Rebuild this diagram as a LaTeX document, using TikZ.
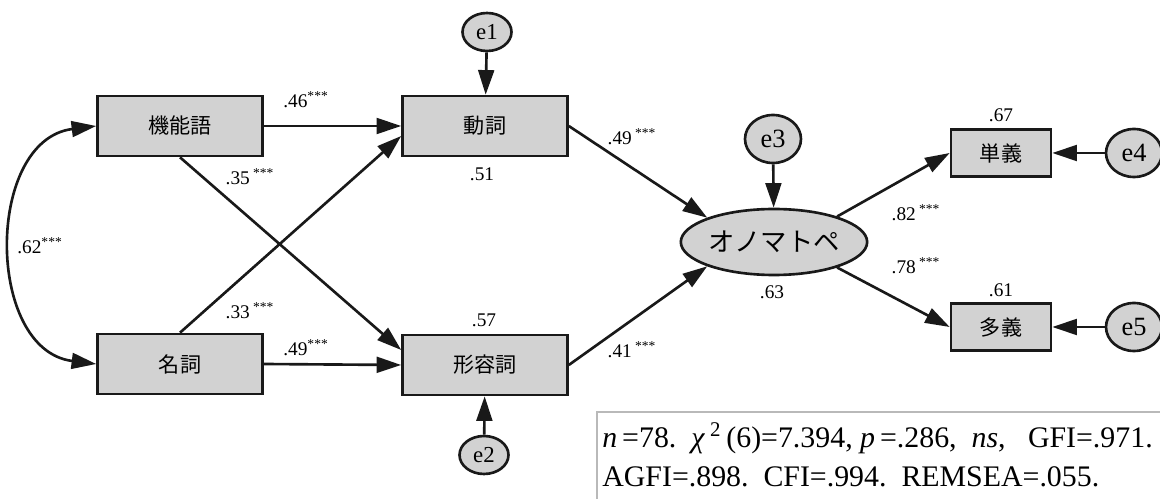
\documentclass[tikz,border=0pt]{standalone}
\usepackage{fontspec}
\setmainfont{Liberation Serif}
\newfontfamily\jp{Noto Sans CJK JP}
\usetikzlibrary{arrows.meta,shapes.geometric}

\begin{document}
\begin{tikzpicture}[x=0.02cm, y=-0.02cm, >={Triangle[length=14pt,width=9pt]},
  line width=1.5pt, draw=black!90,
  obs/.style={rectangle, draw, fill=gray!35, minimum width=3.3cm, minimum height=1.2cm, font=\jp\fontsize{12}{14}\selectfont},
  smallobs/.style={obs, minimum width=2cm, minimum height=0.94cm},
  latent/.style={ellipse, draw, fill=gray!35, minimum width=3.1cm, minimum height=1.32cm, inner sep=0pt, font=\jp\fontsize{15}{18}\selectfont},
  err/.style={ellipse, draw, fill=gray!35, minimum width=0.98cm, minimum height=0.76cm, inner sep=0pt, font=\fontsize{13}{15}\selectfont},
  bigerr/.style={err, minimum width=1.12cm, minimum height=0.96cm, font=\fontsize{15}{17}\selectfont},
  coef/.style={inner sep=1pt, font=\fontsize{11}{13}\selectfont}]
  \useasboundingbox (0,0) rectangle (1160,499);

  % observed variables
  \node[obs] (kinou) at (180,126) {機能語};
  \node[obs] (meishi) at (180,364) {名詞};
  \node[obs] (doushi) at (485,126) {動詞};
  \node[obs] (keiyou) at (485,365) {形容詞};
  \node[latent] (ono) at (774,242) {オノマトペ};
  \node[smallobs] (tangi) at (1001,153) {単義};
  \node[smallobs] (tagi) at (1001,327) {多義};

  % errors
  \node[err] (e1) at (487,32) {e1};
  \node[err] (e2) at (484,455) {e2};
  \node[bigerr] (e3) at (773,139) {e3};
  \node[bigerr] (e4) at (1134,153) {e4};
  \node[bigerr] (e5) at (1134,327) {e5};

  % paths
  \draw[->] (kinou.east) -- (doushi.west);
  \draw[->] (meishi.east) -- (keiyou.west);
  \draw[->] (kinou.south) -- ([yshift=0.3cm]keiyou.west);
  \draw[->] (meishi.north) -- ([yshift=-0.2cm]doushi.west);
  \draw[<->] (kinou.west) .. controls (-15,140) and (-15,350) .. (meishi.west);
  \draw[->] (doushi.east) -- (ono.160);
  \draw[->] (keiyou.east) -- (ono.200);
  \draw[->] (ono.22) -- (tangi.west);
  \draw[->] (ono.-22) -- (tagi.west);

  % error paths
  \draw[->] (e1) -- (doushi);
  \draw[->] (e2) -- (keiyou);
  \draw[->] (e3) -- (ono);
  \draw[->] (e4) -- (tangi);
  \draw[->] (e5) -- (tagi);

  % coefficients
  \node[coef] (c1) at (306,100) {.46\textsuperscript{***}};
  \node[coef] (c2) at (250,177) {.35\,\textsuperscript{***}};
  \node[coef] (c3) at (40,246) {.62\textsuperscript{***}};
  \node[coef] (c4) at (250,311) {.33\,\textsuperscript{***}};
  \node[coef] (c5) at (306,348) {.49\textsuperscript{***}};
  \node[coef] (c6) at (632,137) {.49\,\textsuperscript{***}};
  \node[coef] (c7) at (632,350) {.41\,\textsuperscript{***}};
  \node[coef] (c8) at (916,213) {.82\,\textsuperscript{***}};
  \node[coef] (c9) at (916,266) {.78\,\textsuperscript{***}};

  % squared multiple correlations
  \node[coef] (r1) at (482,174) {.51};
  \node[coef] (r2) at (484,320) {.57};
  \node[coef] (r3) at (772,292) {.63};
  \node[coef] (r4) at (1001,115) {.67};
  \node[coef] (r5) at (1001,290) {.61};

  % fit indices
  \draw[draw=gray!55, line width=0.8pt] (597,412) rectangle (1175,515);
  \node[anchor=base west, align=left, inner sep=0pt, font=\fontsize{17}{22.7}\selectfont] (fit) at (601,487)
  {\textit{n}\,=78.\ \ \textit{χ}\,\textsuperscript{2}\,(6)=7.394, \textit{p}\,=.286,\ \ \textit{ns},\ \ \ GFI=.971.\\
   AGFI=.898.\ \ CFI=.994.\ \ REMSEA=.055.};
\end{tikzpicture}
\end{document}
